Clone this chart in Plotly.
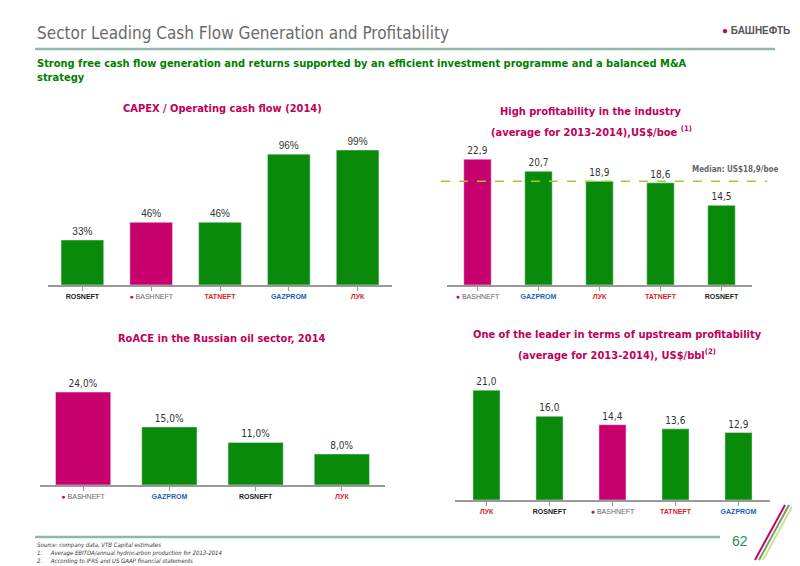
import plotly.graph_objects as go

# --- data ---
capex_cos = ["Rosneft", "Bashneft", "Tatneft", "Gazprom Neft", "Lukoil"]
capex_vals = [33, 46, 46, 96, 99]

prof_cos = ["Bashneft", "Gazprom Neft", "Lukoil", "Tatneft", "Rosneft"]
prof_vals = [22.9, 20.7, 18.9, 18.6, 14.5]
prof_median = 18.9

roace_cos = ["Bashneft", "Gazprom Neft", "Rosneft", "Lukoil"]
roace_vals = [24.0, 15.0, 11.0, 8.0]

up_cos = ["Lukoil", "Rosneft", "Bashneft", "Tatneft", "Gazprom Neft"]
up_vals = [21.0, 16.0, 14.4, 13.6, 12.9]

GREEN = "#0a8a0a"
MAGENTA = "#c8006e"
OFF = 8  # page body margin
W, H = 800 - OFF, 566 - OFF
NARROW = "DejaVu Sans Condensed, Liberation Sans Narrow, Arial"

logo = {
    "Rosneft": "<b><span style='color:#222'>ROSNEFT</span></b>",
    "Bashneft": "<span style='color:#c8006e'>●</span><span style='color:#666'> BASHNEFT</span>",
    "Tatneft": "<b><span style='color:#d81e1e'>TATNEFT</span></b>",
    "Gazprom Neft": "<b><span style='color:#1a5fb4'>GAZPROM</span></b>",
    "Lukoil": "<b><span style='color:#d81e1e'>ЛУК</span></b>",
}


def fmt(v, suffix=""):
    return f"{v:.1f}".replace(".", ",") + suffix


def fx(p):
    return (p - OFF) / W


def fy(p):
    return 1 - (p - OFF) / H


def note(text, x, y, size, color, family=NARROW, xanchor="center", yanchor="middle", **kw):
    fig.add_annotation(text=text, x=fx(x), y=fy(y), xref="paper", yref="paper",
                       xanchor=xanchor, yanchor=yanchor, showarrow=False,
                       font=dict(size=size, color=color, family=family), **kw)


fig = go.Figure()

panels = [
    (capex_cos, capex_vals, [f"{v}%" for v in capex_vals], (48, 392), (130, 285), 113.7, 0.62, "Arial"),
    (prof_cos, prof_vals, [fmt(v) for v in prof_vals], (447, 752), (140, 285), 26.4, 0.45, NARROW),
    (roace_cos, roace_vals, [fmt(v, "%") for v in roace_vals], (40, 385), (370, 485), 29.7, 0.64, NARROW),
    (up_cos, up_vals, [fmt(v) for v in up_vals], (455, 770), (375, 500), 23.9, 0.43, NARROW),
]

for i, (cos, vals, labels, xr, yr, rmax, width, tfont) in enumerate(panels, start=1):
    sx = "" if i == 1 else str(i)
    fig.add_trace(go.Bar(
        x=cos, y=vals, marker_color=[MAGENTA if c == "Bashneft" else GREEN for c in cos],
        width=width, text=labels, textposition="outside", cliponaxis=False,
        textfont=dict(size=10, color="#333", family=tfont),
        xaxis="x" + sx, yaxis="y" + sx, showlegend=False,
    ))
    fig.update_layout(**{
        "xaxis" + sx: dict(domain=[fx(xr[0]), fx(xr[1])], anchor="y" + sx, showline=True,
                           linecolor="#999", linewidth=1.5, ticks="outside",
                           tickcolor="#999", ticklen=4,
                           tickvals=cos, ticktext=[logo[c] for c in cos],
                           tickfont=dict(size=7, family="Arial")),
        "yaxis" + sx: dict(domain=[fy(yr[1]), fy(yr[0])], anchor="x" + sx, range=[0, rmax],
                           visible=False),
    })

# median line
fig.add_shape(type="line", xref="x2 domain", yref="y2", x0=-0.02, x1=1.05,
              y0=prof_median, y1=prof_median,
              line=dict(color="#9acd32", width=1.5, dash="dash"))

titles = [
    ("CAPEX / Operating cash flow (2014)", 222, 108),
    ("High profitability in the industry", 591, 112),
    ("(average for 2013-2014),US$/boe <sup>(1)</sup>", 591, 131),
    ("RoACE in the Russian oil sector, 2014", 222, 338),
    ("One of the leader in terms of upstream profitability", 617, 334),
    ("(average for 2013-2014), US$/bbl<sup>(2)</sup>", 617, 354),
]
for t, x, y in titles:
    note(f"<b>{t}</b>", x, y, 11, "#c0005a")

note("<b>Median: US$18,9/boe</b>", 735, 169, 8, "#666")

note("Sector Leading Cash Flow Generation and Profitability", 35, 33, 17, "#6a6a6a",
     xanchor="left")
note("<b>Strong free cash flow generation and returns supported by an efficient investment programme and a balanced M&A<br>strategy</b>",
     35, 70, 11, "#008000", xanchor="left", align="left")
note("<span style='color:#c8006e'>●</span><b> БАШНЕФТЬ</b>", 792, 30, 10, "#555",
     family="Arial", xanchor="right")

note("<i>Source: company data, VTB Capital estimates<br>1.     Average EBITDA/annual hydrocarbon production for 2013-2014<br>2.     According to IFRS and US GAAP financial statements</i>",
     35, 539, 6, "#333", xanchor="left", yanchor="top", align="left")
note("62", 740, 541, 14, "#2e8b57", family="Arial")

# header / footer rules
fig.add_shape(type="line", xref="paper", yref="paper", x0=fx(35), x1=fx(775),
              y0=fy(49), y1=fy(49), line=dict(color="#8fb8a8", width=2.5))
fig.add_shape(type="line", xref="paper", yref="paper", x0=fx(35), x1=fx(720),
              y0=fy(537), y1=fy(537), line=dict(color="#8fb8a8", width=2.5))
for dx, c in [(0, "#c8006e"), (4, "#6aa84f"), (8, "#d9d9a0")]:
    fig.add_shape(type="line", xref="paper", yref="paper",
                  x0=fx(755 + dx), y0=fy(560), x1=fx(785 + dx), y1=fy(505),
                  line=dict(color=c, width=2))

fig.update_layout(width=W, height=H, margin=dict(l=0, r=0, t=0, b=0),
                  plot_bgcolor="white", paper_bgcolor="white")

fig.write_html("out.html")
